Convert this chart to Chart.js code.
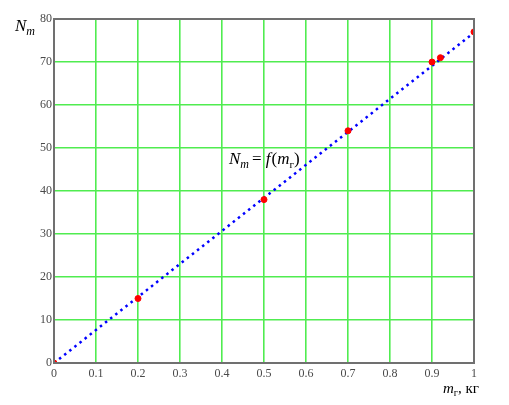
<!DOCTYPE html>
<html lang="ru">
<head>
<meta charset="UTF-8">
<title>N_m = f(m_г)</title>
<script src="https://cdn.jsdelivr.net/npm/chart.js"></script>
<style>
  body { margin: 0; background: #fff; }
  #wrap { width: 509px; height: 405px; }
</style>
</head>
<body>
<div id="wrap"><canvas id="grafico"></canvas></div>
<script>
// dados medidos (pontos vermelhos)
const massas = [0, 0.2, 0.5, 0.7, 0.9, 0.92, 1];
const valoresN = [0, 15, 38, 54, 70, 71, 77];
// reta ajustada (pontilhada azul)
const retaX = [0, 1];
const retaY = [0, 76.8];
// ticks
const ticksX = [0, 0.1, 0.2, 0.3, 0.4, 0.5, 0.6, 0.7, 0.8, 0.9, 1];
const ticksY = [0, 10, 20, 30, 40, 50, 60, 70, 80];

const serif = '"Liberation Serif", "Times New Roman", serif';

// escreve pedaços de texto com fontes diferentes (para subscritos)
function escrever(ctx, x, y, partes) {
  let cx = x;
  partes.forEach(function (p) {
    ctx.font = p.font;
    ctx.fillText(p.t, cx, y + (p.dy || 0));
    cx += ctx.measureText(p.t).width + (p.gap || 0);
  });
}

const textos = {
  id: 'textos',
  afterDraw(chart) {
    const ctx = chart.ctx;
    const a = chart.chartArea;
    ctx.save();
    // moldura
    ctx.strokeStyle = '#707070';
    ctx.lineWidth = 2;
    ctx.strokeRect(a.left, a.top, a.right - a.left, a.bottom - a.top);
    ctx.fillStyle = '#000';
    ctx.textBaseline = 'alphabetic';
    const it16 = 'italic 17px ' + serif;
    const it11 = 'italic 12px ' + serif;
    const n16 = '17px ' + serif;
    const n11 = '11px ' + serif;
    escrever(ctx, 15, 31, [
      { t: 'N', font: it16 },
      { t: 'm', font: it11, dy: 4 }
    ]);
    escrever(ctx, 229, 164, [
      { t: 'N', font: it16 },
      { t: 'm', font: it11, dy: 4, gap: 3 },
      { t: '= ', font: n16 },
      { t: 'f', font: it16, gap: 1 },
      { t: '(', font: n16 },
      { t: 'm', font: it16 },
      { t: 'г', font: n11, dy: 4 },
      { t: ')', font: n16 }
    ]);
    escrever(ctx, 443, 393, [
      { t: 'm', font: 'italic 15px ' + serif },
      { t: 'г', font: '10px ' + serif, dy: 3 },
      { t: ', кг', font: '15px ' + serif }
    ]);
    ctx.restore();
  }
};

new Chart(document.getElementById('grafico'), {
  type: 'scatter',
  data: {
    datasets: [
      {
        label: 'pontos',
        data: massas.map((m, i) => ({ x: m, y: valoresN[i] })),
        backgroundColor: '#ff0000',
        borderColor: '#ff0000',
        pointRadius: 3,
        showLine: false,
        order: 1
      },
      {
        label: 'reta',
        data: retaX.map((m, i) => ({ x: m, y: retaY[i] })),
        borderColor: '#0000ff',
        borderWidth: 2.5,
        borderDash: [2.5, 4],
        pointRadius: 0,
        showLine: true,
        order: 2
      }
    ]
  },
  options: {
    responsive: true,
    maintainAspectRatio: false,
    animation: false,
    layout: { padding: { left: 0, top: 19, right: 35, bottom: 0 } },
    plugins: { legend: { display: false }, tooltip: { enabled: false } },
    scales: {
      x: {
        type: 'linear',
        min: 0, max: 1,
        afterBuildTicks: s => { s.ticks = ticksX.map(v => ({ value: v })); },
        afterFit: s => { s.height = 42; },
        grid: { color: '#50ec50', lineWidth: 1.6, drawTicks: false },
        border: { display: false },
        ticks: {
          padding: 4,
          maxRotation: 0,
          color: '#4a4a4a',
          font: { family: serif, size: 12 },
          callback: v => String(v)
        }
      },
      y: {
        type: 'linear',
        min: 0, max: 80,
        afterBuildTicks: s => { s.ticks = ticksY.map(v => ({ value: v })); },
        afterFit: s => { s.width = 54; },
        grid: { color: '#50ec50', lineWidth: 1.6, drawTicks: false },
        border: { display: false },
        ticks: {
          padding: 2,
          color: '#4a4a4a',
          font: { family: serif, size: 12 }
        }
      }
    }
  },
  plugins: [textos]
});
</script>
</body>
</html>
